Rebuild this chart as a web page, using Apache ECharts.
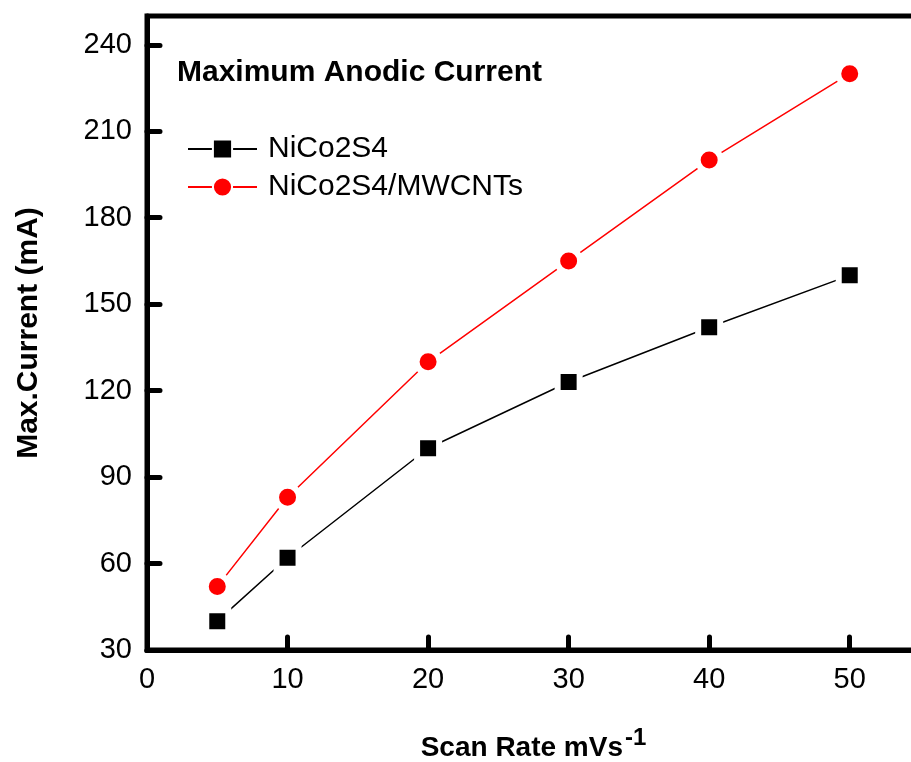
<!DOCTYPE html>
<html>
<head>
<meta charset="utf-8">
<script src="https://cdn.jsdelivr.net/npm/echarts@6/dist/echarts.min.js"></script>
<style>
  html, body { margin: 0; padding: 0; background: #fff; }
  #main { width: 911px; height: 762px; }
</style>
</head>
<body>
<div id="main"></div>
<script>
  var scanRate = [5, 10, 20, 30, 40, 50];
  var nico = [40, 62, 100, 123, 142, 160];
  var nicoCnt = [52, 83, 130, 165, 200, 230];

  function pairs(xs, ys) {
    return xs.map(function (x, i) { return [x, ys[i]]; });
  }

  var font = '"Liberation Sans", Arial, sans-serif';
  var chart = echarts.init(document.getElementById('main'));

  chart.setOption({
    animation: false,
    textStyle: { fontFamily: font },
    title: {
      text: 'Maximum Anodic Current',
      left: 172, top: 53,
      textStyle: { fontFamily: font, fontSize: 30, fontWeight: 'bold', color: '#000' }
    },
    legend: {
      orient: 'vertical',
      left: 187, top: 134, padding: 0,
      itemWidth: 69, itemHeight: 24, itemGap: 8,
      textStyle: { fontFamily: font, fontSize: 30, color: '#000', padding: [0, 0, 0, 6] },
      data: ['NiCo2S4', 'NiCo2S4/MWCNTs']
    },
    grid: {
      left: 147, top: 16, width: 773, height: 634,
      outerBoundsMode: 'none',
      show: true, borderColor: '#000', borderWidth: 5
    },
    xAxis: {
      type: 'value', min: 0, max: 55, interval: 10,
      name: 'Scan Rate mVs{sup|-1}',
      nameLocation: 'middle', nameGap: 76,
      nameTextStyle: {
        fontFamily: font, fontSize: 28, fontWeight: 'bold', color: '#000',
        rich: { sup: { fontFamily: font, fontSize: 24, fontWeight: 'bold', color: '#000', verticalAlign: 'top', padding: [0, 0, 20, 2] } }
      },
      axisLine: { lineStyle: { color: '#000', width: 5 } },
      axisTick: { inside: true, length: 13, lineStyle: { color: '#000', width: 5, cap: 'round' } },
      axisLabel: { showMaxLabel: false, margin: 15, fontFamily: font, fontSize: 29, color: '#000' },
      splitLine: { show: false }
    },
    yAxis: {
      type: 'value', min: 30, max: 250, interval: 30,
      name: 'Max.Current (mA)',
      nameLocation: 'middle', nameGap: 103, nameRotate: 90,
      nameTextStyle: { fontFamily: font, fontSize: 30, fontWeight: 'bold', color: '#000' },
      axisLine: { lineStyle: { color: '#000', width: 5 } },
      axisTick: { inside: true, length: 13, lineStyle: { color: '#000', width: 5, cap: 'round' } },
      axisLabel: { showMaxLabel: false, margin: 15, fontFamily: font, fontSize: 29, color: '#000' },
      splitLine: { show: false }
    },
    series: [
      {
        name: 'NiCo2S4', type: 'line',
        data: pairs(scanRate, nico),
        symbol: 'rect', symbolSize: 22,
        lineStyle: { color: '#000', width: 1.5 },
        itemStyle: { color: '#000', borderColor: '#fff', borderWidth: 6 }
      },
      {
        name: 'NiCo2S4/MWCNTs', type: 'line',
        data: pairs(scanRate, nicoCnt),
        symbol: 'circle', symbolSize: 23,
        lineStyle: { color: '#ff0000', width: 1.5 },
        itemStyle: { color: '#ff0000', borderColor: '#fff', borderWidth: 6 }
      }
    ]
  });
</script>
</body>
</html>
